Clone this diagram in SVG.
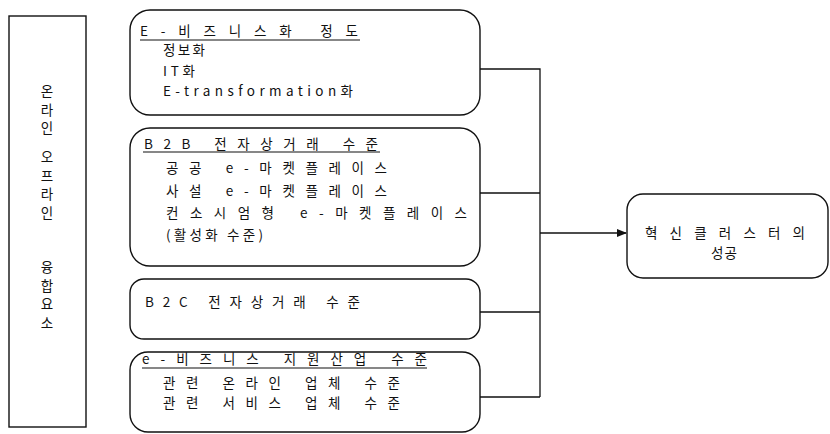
<svg xmlns="http://www.w3.org/2000/svg" width="830" height="434" viewBox="0 0 830 434">
<style>
.box{fill:#fff;stroke:#111;stroke-width:1.4}
.t{font-family:"Noto Sans CJK KR","Liberation Sans",sans-serif;font-size:13.5px;fill:#111}
.v{font-family:"Noto Sans CJK KR","Liberation Sans",sans-serif;font-size:13.5px;fill:#111;text-anchor:middle}
.ln{stroke:#111;stroke-width:1.3;fill:none}
.ul{stroke:#111;stroke-width:1.1}
</style>
<defs>
<marker id="ah" markerWidth="10" markerHeight="8" refX="9" refY="4" orient="auto" markerUnits="userSpaceOnUse">
<path d="M0,0 L10,4 L0,8 z" fill="#111"/>
</marker>
</defs>
<rect width="830" height="434" fill="#fff"/>

<g id="connectors">
<path class="ln" d="M480,69 H540 V397 M480,193 H540 M480,312 H540 M480,397 H540"/>
<path class="ln" d="M540,233 H626" marker-end="url(#ah)"/>
</g>

<g id="left-box">
<rect x="9" y="16" width="77" height="411" fill="#fff" stroke="#111" stroke-width="1.4"/>
<text class="v"><tspan x="47" y="96">온</tspan><tspan x="47" y="114.5">라</tspan><tspan x="47" y="133">인</tspan></text>
<text class="v"><tspan x="47" y="162">오</tspan><tspan x="47" y="180.5">프</tspan><tspan x="47" y="199">라</tspan><tspan x="47" y="217.5">인</tspan></text>
<text class="v"><tspan x="47" y="272">융</tspan><tspan x="47" y="290.5">합</tspan><tspan x="47" y="309">요</tspan><tspan x="47" y="327.5">소</tspan></text>
</g>

<g id="box1">
<rect class="box" x="130" y="10" width="350" height="105" rx="20"/>
<text class="t" x="140" y="36" textLength="218" lengthAdjust="spacing">E-비즈니스화 정도</text>
<line class="ul" x1="140" y1="40" x2="360" y2="40"/>
<text class="t" x="163" y="55" textLength="42" lengthAdjust="spacing">정보화</text>
<text class="t" x="163" y="76" textLength="32" lengthAdjust="spacing">IT화</text>
<text class="t" x="163" y="96" textLength="190" lengthAdjust="spacing">E-transformation화</text>
</g>

<g id="box2">
<rect class="box" x="130" y="128" width="350" height="138" rx="20"/>
<text class="t" x="144" y="149" textLength="234" lengthAdjust="spacing">B2B 전자상거래 수준</text>
<line class="ul" x1="143" y1="152" x2="380" y2="152"/>
<text class="t" x="166" y="173" textLength="221" lengthAdjust="spacing">공공 e-마켓플레이스</text>
<text class="t" x="166" y="196" textLength="221" lengthAdjust="spacing">사설 e-마켓플레이스</text>
<text class="t" x="166" y="218" textLength="301" lengthAdjust="spacing">컨소시엄형 e-마켓플레이스</text>
<text class="t" x="166" y="240" textLength="97" lengthAdjust="spacing">(활성화 수준)</text>
</g>

<g id="box3">
<rect class="box" x="130" y="279" width="350" height="60" rx="14"/>
<text class="t" x="145" y="307" textLength="215" lengthAdjust="spacing">B2C 전자상거래 수준</text>
</g>

<g id="box4">
<rect class="box" x="130" y="352" width="350" height="80" rx="18"/>
<text class="t" x="142" y="364" textLength="285" lengthAdjust="spacing">e-비즈니스 지원산업 수준</text>
<line class="ul" x1="142" y1="368" x2="427" y2="368"/>
<text class="t" x="163" y="388" textLength="237" lengthAdjust="spacing">관련 온라인 업체 수준</text>
<text class="t" x="163" y="408" textLength="237" lengthAdjust="spacing">관련 서비스 업체 수준</text>
</g>

<g id="result">
<rect class="box" x="627" y="194" width="201" height="84" rx="16"/>
<text class="t" x="645" y="238" textLength="160" lengthAdjust="spacing">혁신클러스터의</text>
<text class="t" x="711" y="258" textLength="26" lengthAdjust="spacing">성공</text>
</g>
</svg>
